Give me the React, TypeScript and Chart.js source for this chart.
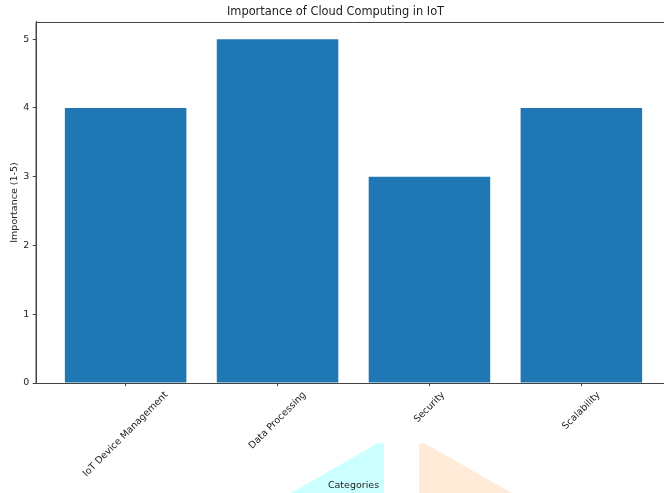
import React, { useEffect, useRef } from "react";
import { Chart, registerables } from "chart.js";

Chart.register(...registerables);

const categories = ["IoT Device Management", "Data Processing", "Security", "Scalability"];
const importance = [4, 5, 3, 4];
const yTicks = [0, 1, 2, 3, 4, 5];
const titleText = "Importance of Cloud Computing in IoT";
const xLabel = "Categories";
const yLabel = "Importance (1-5)";

const FONT = "'DejaVu Sans', sans-serif";
const W = 680;
const H = 493;

const decoPlugin = {
  id: "deco",
  beforeDraw(chart: any) {
    const ctx = chart.ctx;
    ctx.save();
    ctx.fillStyle = "#ccffff";
    ctx.beginPath();
    ctx.moveTo(291, 493);
    ctx.lineTo(378, 443);
    ctx.lineTo(384, 444);
    ctx.lineTo(384, 493);
    ctx.closePath();
    ctx.fill();
    ctx.fillStyle = "#ffebd7";
    ctx.beginPath();
    ctx.moveTo(419, 493);
    ctx.lineTo(419, 444);
    ctx.lineTo(424, 443);
    ctx.lineTo(512, 493);
    ctx.closePath();
    ctx.fill();
    ctx.restore();
  },
  afterDraw(chart: any) {
    const ctx = chart.ctx;
    const a = chart.chartArea;
    const xs = chart.scales.x;
    ctx.save();
    ctx.strokeStyle = "#444";
    ctx.lineWidth = 1;
    ctx.beginPath();
    ctx.moveTo(a.left, a.bottom);
    ctx.lineTo(a.left, a.top + 0.5);
    ctx.lineTo(a.right, a.top + 0.5);
    ctx.stroke();
    ctx.font = `9.5px ${FONT}`;
    ctx.fillStyle = "#222";
    ctx.textAlign = "center";
    ctx.textBaseline = "middle";
    const h = 11;
    categories.forEach((c, i) => {
      const w = ctx.measureText(c).width;
      const x = xs.getPixelForValue(i);
      const y = a.bottom + 6.6 + (w + h) / (2 * Math.SQRT2);
      ctx.save();
      ctx.translate(x, y);
      ctx.rotate(-Math.PI / 4);
      ctx.fillText(c, 0, 0);
      ctx.restore();
    });
    ctx.restore();
  },
};

export default function App() {
  const ref = useRef<HTMLCanvasElement>(null);
  useEffect(() => {
    const chart = new Chart(ref.current as HTMLCanvasElement, {
      type: "bar",
      data: {
        datasets: [
          {
            data: importance.map((v, i) => ({ x: i, y: v })),
            backgroundColor: "#1f77b4",
            borderWidth: 0,
            barPercentage: 0.8,
            categoryPercentage: 1,
          },
        ],
      },
      options: {
        animation: false,
        responsive: false,
        devicePixelRatio: 1,
        layout: { padding: { left: 0, right: 9, top: 0, bottom: 0 } },
        plugins: {
          legend: { display: false },
          tooltip: { enabled: false },
          title: {
            display: true,
            text: titleText,
            color: "#222",
            font: { family: FONT, size: 11.4, weight: "normal" },
            padding: { top: 5, bottom: 3.3 },
          },
        },
        scales: {
          x: {
            type: "linear",
            offset: false,
            min: -0.59,
            max: 3.59,
            afterBuildTicks: (s: any) => {
              s.ticks = categories.map((_, i) => ({ value: i }));
            },
            afterFit: (s: any) => {
              s.height = 110;
            },
            ticks: { display: false },
            grid: {
              display: true,
              offset: false,
              drawOnChartArea: false,
              drawTicks: true,
              tickLength: 3.3,
              tickColor: "#444",
            },
            border: { display: true, color: "#444", width: 1 },
            title: {
              display: true,
              text: xLabel,
              color: "#222",
              font: { family: FONT, size: 9.5 },
              padding: { top: 0, bottom: 1.3 },
            },
          },
          y: {
            min: 0,
            max: 5.25,
            afterBuildTicks: (s: any) => {
              s.ticks = yTicks.map((v) => ({ value: v }));
            },
            afterFit: (s: any) => {
              s.width = 36;
            },
            ticks: {
              color: "#222",
              font: { family: FONT, size: 9.5 },
              padding: 3.3,
              callback: (v: any) => String(v),
            },
            grid: {
              display: true,
              drawOnChartArea: false,
              drawTicks: true,
              tickLength: 3.3,
              tickColor: "#444",
            },
            border: { display: true, color: "#444", width: 1 },
            title: {
              display: true,
              text: yLabel,
              color: "#222",
              font: { family: FONT, size: 9.5 },
              padding: { top: 9.3, bottom: 0 },
            },
          },
        },
      },
      plugins: [decoPlugin],
    });
    return () => chart.destroy();
  }, []);
  return (
    <div style={{ position: "fixed", left: 0, top: 0, width: 664, height: 493, overflow: "hidden", background: "#fff" }}>
      <canvas ref={ref} width={W} height={H} style={{ width: W, height: H, display: "block" }} />
    </div>
  );
}
